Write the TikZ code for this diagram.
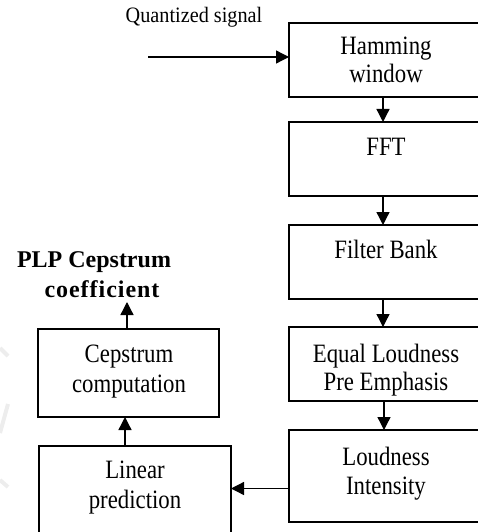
\documentclass[tikz,border=0pt]{standalone}
\usepackage{fontspec}
\setmainfont{Liberation Serif}[FakeStretch=0.92]
\newfontfamily\boxfont{Liberation Serif}[FakeStretch=0.86]
\newfontfamily\headfont{Liberation Serif}
\usetikzlibrary{arrows.meta}
\begin{document}
\begin{tikzpicture}[x=1pt,y=-1pt,
  box/.style={draw, line width=1.6pt, inner sep=0pt, outer sep=0pt, anchor=north west},
  lbl/.style={anchor=base, inner sep=0pt, font=\boxfont\fontsize{26.5}{29}\selectfont},
  arr/.style={line width=1.3pt, -{Triangle[width=13pt,length=13pt]}},
  faint/.style={draw=gray!14, line width=4pt}]
\useasboundingbox (0,0) rectangle (478,532);

% faint background marks at the left edge
\path[faint] (0,348) -- (8,356);
\path[faint] (0,433) -- (8,404);
\path[faint] (0,480) -- (8,487);

% processing chain, right column
\node[box, minimum width=194pt, minimum height=74pt] (ham)  at (289,23)  {};
\node[box, minimum width=194pt, minimum height=74pt] (fft)  at (289,122) {};
\node[box, minimum width=194pt, minimum height=74pt] (fb)   at (289,225) {};
\node[box, minimum width=194pt, minimum height=74pt] (elpe) at (289,327) {};
\node[box, minimum width=194pt, minimum height=92pt] (li)   at (289,430) {};

% left column
\node[box, minimum width=181pt, minimum height=88pt]  (cep) at (38,329) {};
\node[box, minimum width=192pt, minimum height=100pt] (lin) at (39,446) {};

% box texts
\node[lbl] (hamA)  at (386,55)  {Hamming};
\node[lbl] (hamB)  at (386,83)  {window};
\node[lbl] (fftA)  at (386,155) {FFT};
\node[lbl] (fbA)   at (386,258) {Filter Bank};
\node[lbl] (elpeA) at (386,362) {Equal Loudness};
\node[lbl] (elpeB) at (386,390) {Pre Emphasis};
\node[lbl] (liA)   at (386,465) {Loudness};
\node[lbl] (liB)   at (386,494) {Intensity};
\node[lbl] (cepA)  at (129,362) {Cepstrum};
\node[lbl] (cepB)  at (129,392) {computation};
\node[lbl] (linA)  at (135,478) {Linear};
\node[lbl] (linB)  at (135,508) {prediction};

% input and output labels
\node[anchor=base, inner sep=0pt, font=\fontsize{22}{26}\selectfont] (qs) at (194,23) {Quantized signal};
\node[anchor=base, inner sep=0pt, font=\headfont\bfseries\fontsize{24}{28}\selectfont] (plpA) at (94,267) {PLP Cepstrum};
\node[anchor=base, inner sep=0pt, font=\headfont\bfseries\fontsize{24}{28}\selectfont\addfontfeatures{LetterSpace=4}] (plpB) at (102,297) {coefficient};

% connectors
\coordinate (qin) at (148,57);
\draw[arr] (qin) -- (qin -| ham.west);
\draw[arr] ([xshift=-3pt]ham.south)  -- ([xshift=-3pt]fft.north);
\draw[arr] ([xshift=-3pt]fft.south)  -- ([xshift=-3pt]fb.north);
\draw[arr] ([xshift=-3pt]fb.south)   -- ([xshift=-3pt]elpe.north);
\draw[arr] ([xshift=-2pt]elpe.south) -- ([xshift=-2pt]li.north);
\draw[arr] ([yshift=-12.5pt]li.west) coordinate (liw) -- (liw -| lin.east);
\draw[arr] ([xshift=-10pt]lin.north) coordinate (lnup) -- (lnup |- cep.south);
\coordinate (out) at (127,302);
\draw[arr] (cep.north -| out) -- (out);
\end{tikzpicture}
\end{document}
